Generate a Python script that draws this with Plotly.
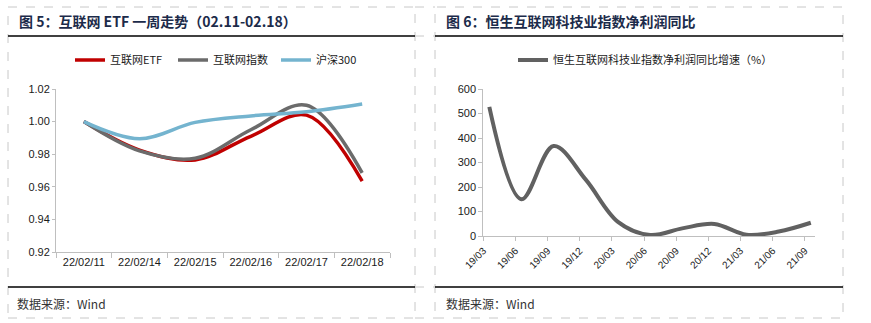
import plotly.graph_objects as go

W, H = 871, 323

# ---------------- data ----------------
left_dates = ["22/02/11", "22/02/14", "22/02/15", "22/02/16", "22/02/17", "22/02/18"]
etf_vals = [1.000, 0.9825, 0.9765, 0.9910, 1.0040, 0.9635]
idx_vals = [1.000, 0.9820, 0.9775, 0.9950, 1.0100, 0.9685]
hs300_vals = [1.000, 0.9895, 0.9995, 1.0035, 1.0060, 1.0108]
left_yticks = [0.92, 0.94, 0.96, 0.98, 1.00, 1.02]

right_quarters = ["19/03", "19/06", "19/09", "19/12", "20/03", "20/06",
                  "20/09", "20/12", "21/03", "21/06", "21/09"]
profit_yoy = [527, 150, 367, 230, 58, 4, 31, 49, 5, 18, 54]
right_yticks = [0, 100, 200, 300, 400, 500, 600]

left_title = "图 5：互联网 ETF 一周走势（02.11-02.18）"
right_title = "图 6：恒生互联网科技业指数净利润同比"
source_text = "数据来源：Wind"


def fx(px):
    return px / W


def fy(py):
    return 1 - py / H


TICK_FONT = dict(family="Liberation Sans, Arial, sans-serif", size=11, color="#1a1a1a")
AXIS_COLOR = "#BFBFBF"

fig = go.Figure()

# left chart traces
for name, vals, color in [("互联网ETF", etf_vals, "#C00000"),
                          ("互联网指数", idx_vals, "#6B6B6B"),
                          ("沪深300", hs300_vals, "#74B4CF")]:
    fig.add_trace(go.Scatter(
        x=left_dates, y=vals, name=name, mode="lines",
        line=dict(color=color, width=3.5, shape="spline", smoothing=1.0),
        xaxis="x", yaxis="y", legend="legend", hoverinfo="skip"))

# right chart trace
right_pos = list(range(len(right_quarters)))
fig.add_trace(go.Scatter(
    x=right_pos, y=profit_yoy, name="恒生互联网科技业指数净利润同比增速（%）",
    mode="lines", line=dict(color="#616161", width=4, shape="spline", smoothing=1.0),
    xaxis="x2", yaxis="y2", legend="legend2", hoverinfo="skip"))

tick_offset = 0.187

fig.update_layout(
    width=W, height=H,
    margin=dict(l=0, r=0, t=0, b=0),
    paper_bgcolor="white", plot_bgcolor="white",
    font=dict(family="Liberation Sans, Noto Sans CJK SC, sans-serif", size=11, color="#1a1a1a"),
    xaxis=dict(domain=[fx(56), fx(390)], anchor="y", type="category",
               range=[-0.5, len(left_dates) - 0.5], tickson="boundaries",
               showline=True, linecolor=AXIS_COLOR, linewidth=1,
               ticks="outside", ticklen=5, tickcolor=AXIS_COLOR, automargin=False,
               showgrid=False, zeroline=False, tickfont=TICK_FONT, fixedrange=True),
    yaxis=dict(domain=[fy(252), fy(89)], anchor="x", range=[0.92, 1.02],
               tickvals=left_yticks, ticktext=[f"{v:.2f}" for v in left_yticks],
               showline=True, linecolor=AXIS_COLOR, linewidth=1,
               ticks="outside", ticklen=3, tickcolor=AXIS_COLOR, automargin=False,
               showgrid=False, zeroline=False, tickfont=TICK_FONT, fixedrange=True),
    xaxis2=dict(domain=[fx(483.3), fx(815)], anchor="y2",
                range=[-tick_offset, 10.13],
                tickvals=[p - tick_offset for p in right_pos], ticktext=right_quarters,
                tickangle=-45, automargin=False,
                showline=True, linecolor=AXIS_COLOR, linewidth=1,
                ticks="outside", ticklen=4, tickcolor=AXIS_COLOR,
                showgrid=False, zeroline=False,
                tickfont=dict(family="Liberation Sans, Arial, sans-serif", size=10, color="#1a1a1a"),
                fixedrange=True),
    yaxis2=dict(domain=[fy(236), fy(89)], anchor="x2", range=[0, 600],
                tickvals=right_yticks, automargin=False,
                showline=True, linecolor=AXIS_COLOR, linewidth=1,
                ticks="outside", ticklen=4, tickcolor=AXIS_COLOR,
                showgrid=False, zeroline=False, tickfont=TICK_FONT, fixedrange=True),
    legend=dict(orientation="h", x=fx(70), y=fy(60), xanchor="left", yanchor="middle",
                font=dict(family="Noto Sans CJK SC, sans-serif", size=11, color="#1a1a1a"),
                entrywidth=58, entrywidthmode="pixels", bgcolor="rgba(0,0,0,0)",
                itemclick=False, itemdoubleclick=False),
    legend2=dict(orientation="h", x=fx(513), y=fy(60), xanchor="left", yanchor="middle",
                 font=dict(family="Noto Sans CJK SC, sans-serif", size=11, color="#1a1a1a"),
                 bgcolor="rgba(0,0,0,0)", itemclick=False, itemdoubleclick=False),
    showlegend=True,
)

shapes = []
dash_line = dict(color="#C8C8C8", width=1, dash="dash")
# dashed panel borders
for x0, x1 in [(8, 415), (435, 843)]:
    shapes.append(dict(type="rect", xref="paper", yref="paper",
                       x0=fx(x0), x1=fx(x1), y0=fy(318), y1=fy(7), line=dash_line))
# middle gap dashed lines
for yy in [36, 287, 7, 318]:
    shapes.append(dict(type="line", xref="paper", yref="paper",
                       x0=fx(415), x1=fx(435), y0=fy(yy), y1=fy(yy), line=dash_line))
# solid black header / footer rules
for x0, x1 in [(8, 415), (435, 843)]:
    for yy in [36, 287]:
        shapes.append(dict(type="line", xref="paper", yref="paper",
                           x0=fx(x0), x1=fx(x1), y0=fy(yy), y1=fy(yy),
                           line=dict(color="#000000", width=1.5)))
fig.update_layout(shapes=shapes)

annotations = []
title_font = dict(family="Noto Sans CJK SC, sans-serif", size=14, color="#1c2b4a")
for txt, x in [(left_title, 17), (right_title, 444)]:
    annotations.append(dict(text=f"<b>{txt}</b>", xref="paper", yref="paper",
                            x=fx(x), y=fy(21), xanchor="left", yanchor="middle",
                            showarrow=False, font=title_font))
for x in [15, 444]:
    annotations.append(dict(text=source_text, xref="paper", yref="paper",
                            x=fx(x), y=fy(303), xanchor="left", yanchor="middle",
                            showarrow=False,
                            font=dict(family="Noto Sans CJK SC, sans-serif", size=12, color="#333333")))
fig.update_layout(annotations=annotations)

fig.write_html("out.html")
